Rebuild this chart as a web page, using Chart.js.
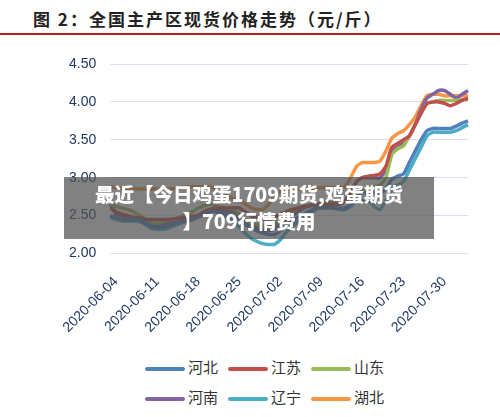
<!DOCTYPE html>
<html><head><meta charset="utf-8">
<script src="https://cdn.jsdelivr.net/npm/chart.js@4"></script>
<style>
body{margin:0;width:500px;height:417px;background:#fff;position:relative;font-family:"Noto Sans CJK SC",sans-serif;overflow:hidden}
#title{position:absolute;left:33px;top:6px;font-size:17px;font-weight:bold;color:#222;letter-spacing:2px}
#rule{position:absolute;left:0;top:33px;width:500px;height:2px;background:#b22222}
#wrap{position:absolute;left:0;top:40px;width:500px;height:308px}
#legend{position:absolute;left:145px;top:352px;width:260px;font-size:15px;color:#333}
.it{display:inline-block;width:83px;height:30px;line-height:30px;white-space:nowrap}
.sw{display:inline-block;width:40px;height:4px;border-radius:2px;vertical-align:middle;margin-right:3px}
#wm{position:absolute;left:64px;top:177px;width:370px;height:62px;background:rgba(80,80,80,0.72);color:#fff;font-weight:900;font-size:19.5px;text-align:center;line-height:27px;padding-top:3px;box-sizing:border-box;white-space:nowrap}
</style></head><body>
<div id="title">图 2：全国主产区现货价格走势（元/斤）</div>
<div id="rule"></div>
<div id="wrap"><canvas id="c"></canvas></div>
<div id="legend"></div>
<div id="wm">最近【今日鸡蛋1709期货,鸡蛋期货<br>】709行情费用</div>
<script>
const dates=[];(function(){const d=new Date(Date.UTC(2020,5,3));for(let i=0;i<62;i++){dates.push(d.toISOString().slice(0,10));d.setUTCDate(d.getUTCDate()+1);}})();
const seriesNames=["河北","江苏","山东","河南","辽宁","湖北"];
const colors=["#4f81bd","#c0504d","#9bbb59","#8064a2","#4bacc6","#f79646"];
const hebei=[2.50,2.47,2.45,2.45,2.45,2.44,2.40,2.36,2.35,2.35,2.37,2.40,2.42,2.43,2.45,2.48,2.52,2.55,2.55,2.53,2.52,2.50,2.45,2.38,2.33,2.30,2.27,2.25,2.25,2.30,2.38,2.42,2.48,2.52,2.56,2.60,2.60,2.60,2.60,2.60,2.60,2.65,2.75,2.80,2.80,2.80,2.80,2.85,2.98,3.02,3.05,3.20,3.35,3.50,3.62,3.65,3.65,3.65,3.65,3.68,3.72,3.75];
const jiangsu=[2.60,2.55,2.52,2.50,2.48,2.47,2.45,2.45,2.45,2.45,2.45,2.46,2.47,2.48,2.49,2.50,2.55,2.58,2.60,2.60,2.60,2.60,2.60,2.55,2.50,2.48,2.45,2.45,2.48,2.52,2.55,2.58,2.60,2.62,2.63,2.64,2.65,2.65,2.65,2.65,2.68,2.80,2.95,3.00,3.02,3.03,3.05,3.15,3.40,3.45,3.50,3.55,3.70,3.85,3.98,4.00,4.00,3.98,3.95,3.98,4.02,4.05];
const shandong=[2.65,2.62,2.60,2.58,2.55,2.50,2.45,2.40,2.40,2.42,2.44,2.45,2.48,2.52,2.55,2.60,2.63,2.65,2.63,2.61,2.60,2.58,2.52,2.45,2.40,2.38,2.36,2.35,2.38,2.45,2.50,2.55,2.60,2.62,2.64,2.65,2.66,2.67,2.68,2.70,2.70,2.75,2.80,2.82,2.85,2.88,2.90,3.00,3.30,3.38,3.42,3.55,3.70,3.85,3.98,4.00,4.02,4.02,4.02,4.02,4.03,4.03];
const henan=[2.65,2.52,2.50,2.48,2.47,2.46,2.44,2.40,2.38,2.38,2.40,2.42,2.43,2.44,2.45,2.50,2.55,2.57,2.57,2.57,2.56,2.55,2.50,2.42,2.36,2.33,2.31,2.30,2.32,2.38,2.45,2.50,2.55,2.60,2.63,2.65,2.67,2.68,2.70,2.70,2.70,2.80,2.95,3.00,3.00,3.00,3.00,3.10,3.35,3.40,3.45,3.55,3.70,3.90,4.05,4.10,4.15,4.15,4.10,4.05,4.10,4.15];
const liaoning=[2.48,2.45,2.43,2.43,2.43,2.42,2.38,2.33,2.32,2.32,2.34,2.37,2.40,2.42,2.45,2.50,2.55,2.58,2.57,2.52,2.48,2.42,2.35,2.27,2.20,2.16,2.13,2.12,2.12,2.18,2.28,2.35,2.42,2.48,2.52,2.58,2.62,2.62,2.60,2.58,2.58,2.62,2.70,2.70,2.70,2.62,2.58,2.70,2.85,2.90,2.95,3.10,3.25,3.40,3.55,3.60,3.60,3.60,3.60,3.62,3.66,3.70];
const hubei=[2.88,2.87,2.86,2.86,2.86,2.85,2.85,2.85,2.85,2.85,2.85,2.86,2.87,2.88,2.88,2.88,2.88,2.88,2.85,2.80,2.75,2.72,2.70,2.65,2.60,2.58,2.58,2.65,2.75,2.82,2.85,2.85,2.85,2.85,2.85,2.86,2.87,2.87,2.87,2.87,2.88,3.00,3.15,3.20,3.20,3.20,3.22,3.35,3.52,3.58,3.62,3.70,3.80,3.95,4.08,4.10,4.10,4.08,4.08,4.08,4.08,4.08];
const values=[hebei,jiangsu,shandong,henan,liaoning,hubei];
const yTicks=[2.0,2.5,3.0,3.5,4.0,4.5];
const lg=document.getElementById('legend');
seriesNames.forEach((n,i)=>{lg.innerHTML+='<span class="it"><span class="sw" style="background:'+colors[i]+'"></span>'+n+'</span>';});
new Chart(document.getElementById('c'),{type:'line',
data:{labels:dates,datasets:seriesNames.map((n,i)=>({label:n,data:values[i],borderColor:colors[i],borderWidth:3.5,pointRadius:0,tension:0.2}))},
options:{responsive:true,maintainAspectRatio:false,animation:false,
layout:{padding:{left:55,right:32,top:24,bottom:0}},
plugins:{legend:{display:false},tooltip:{enabled:false}},
scales:{
y:{min:2,max:4.5,afterBuildTicks:a=>{a.ticks=yTicks.map(v=>({value:v}));},
ticks:{color:'#1f3864',font:{size:14,family:'Liberation Sans'},padding:14,callback:v=>v.toFixed(2)},
grid:{color:'#d6e0f0',drawTicks:false},border:{display:false}},
x:{grid:{display:false},border:{display:false},
ticks:{autoSkip:false,maxRotation:45,minRotation:45,padding:12,color:'#1f3864',font:{size:14,family:'Liberation Sans'},
callback:function(v,i){return (i%7===1)?dates[i]:'';}}}
}}});
</script></body></html>
